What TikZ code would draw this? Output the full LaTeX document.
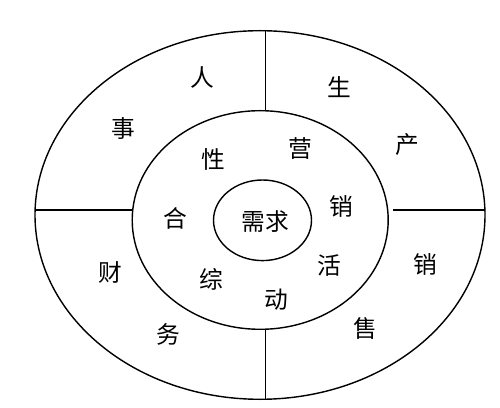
\documentclass[tikz,border=0pt]{standalone}
\usepackage{fontspec}
\newfontfamily\cjk{Noto Sans CJK SC}
\usepackage{tikz}

\begin{document}
\begin{tikzpicture}[x=0.02cm,y=-0.02cm,
	rim/.style={line width=0.8pt},
	zi/.style={font=\cjk\fontsize{13.5pt}{16pt}\selectfont,inner sep=0pt}]
	\useasboundingbox (0,0) rectangle (500,408);
	
	%rings
	\draw[rim] (260,215) ellipse (225 and 184.3);		%outer
	\draw[rim] (260.2,220) ellipse (128 and 109.3);		%middle
	\draw[rim] (262.5,220.3) ellipse (49 and 40.3);		%inner
	
	%ends of the dividers
	\coordinate (outtop) at (265.7,30.8);
	\coordinate (midtop) at (265.7,110.8);
	\coordinate (midbot) at (265.7,329.2);
	\coordinate (outbot) at (265.7,399.2);
	\coordinate (outleft) at (35.1,210);
	\coordinate (midleft) at (132.7,210);
	\coordinate (midright) at (393,210);
	\coordinate (outright) at (484.9,210);
	
	%dividers
	\draw[rim] (outtop) -- (midtop);		%top
	\draw[rim] (midbot) -- (outbot);		%bottom
	\draw[rim] (outleft) -- (midleft);		%left
	\draw[rim] (midright) -- (outright);	%right
	
	%centre
	\node[zi] (xuqiu) at (265,222) 		{需求};
	%
	%middle ring
	\node[zi] (xing) at (213.3,159) 	{性};
	\node[zi] (ying) at (300.7,149) 	{营};
	\node[zi] (xiaoa) at (341.7,206) 	{销};
	\node[zi] (he) at (175,218) 		{合};
	\node[zi] (huo) at (329.3,266) 		{活};
	\node[zi] (zong) at (211.7,279.3) 	{综};
	\node[zi] (dong) at (276,300) 		{动};
	%
	%outer ring
	\node[zi] (ren) at (202.3,77.7) 	{人};
	\node[zi] (shi) at (123.3,129) 		{事};
	\node[zi] (sheng) at (339.3,87.3) 	{生};
	\node[zi] (chan) at (407.3,144.3) 	{产};
	\node[zi] (cai) at (110.7,272.7) 	{财};
	\node[zi] (wu) at (168.3,334) 		{务};
	\node[zi] (xiaob) at (425,264) 		{销};
	\node[zi] (shou) at (365.7,328.3) 	{售};
\end{tikzpicture}
\end{document}
